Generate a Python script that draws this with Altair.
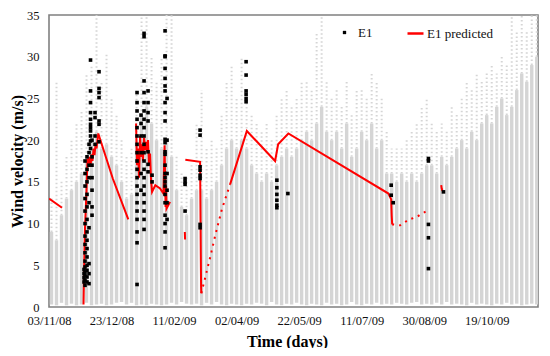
import altair as alt
import pandas as pd

# x positions are days counted from 03/11/08
# ---- grey background (all measured wind data, read as 4-day streaks) ----
bg_day = [2, 6, 10, 14, 18, 22, 26, 30, 34, 38,
          42, 46, 50, 54, 58, 62, 66, 70, 74, 78,
          82, 86, 90, 94, 98, 102, 106, 110, 114, 118,
          122, 126, 130, 134, 138, 142, 146, 150, 154, 158,
          162, 166, 170, 174, 178, 182, 186, 190, 194, 198,
          202, 206, 210, 214, 218, 222, 226, 230, 234, 238,
          242, 246, 250, 254, 258, 262, 266, 270, 274, 278,
          282, 286, 290, 294, 298, 302, 306, 310, 314, 318,
          322, 326, 330, 334, 338, 342, 346, 350, 354, 358,
          362, 366, 370, 374, 378, 382, 386, 390]
bg_low = [0.3, 0.2, 0.5, 0.2, 0.4, 0.2, 0.3, 0.5, 0.2, 0.3,
          0.4, 0.2, 0.3, 0.5, 0.6, 0.3, 0.5, 0.2, 0.3, 0.2,
          0.4, 0.3, 0.2, 0.3, 0.5, 0.3, 0.6, 0.4, 0.3, 0.4,
          0.2, 0.5, 0.3, 0.6, 0.3, 0.2, 0.4, 0.3, 0.2, 0.4,
          0.3, 0.5, 0.4, 0.2, 0.6, 0.3, 0.2, 0.4, 0.3, 0.5,
          0.3, 0.2, 0.4, 0.3, 0.2, 0.5, 0.3, 0.4, 0.2, 0.3,
          0.6, 0.3, 0.2, 0.4, 0.3, 0.5, 0.3, 0.4, 0.3, 0.5,
          0.4, 0.3, 0.5, 0.6, 0.3, 0.4, 0.3, 0.5, 0.3, 0.6,
          0.3, 0.4, 0.3, 0.2, 0.5, 0.3, 0.4, 0.3, 0.2, 0.4,
          0.3, 0.5, 0.3, 0.4, 0.2, 0.3, 0.4, 0.3]
bg_core = [9, 8, 11, 13, 14, 15, 16, 18, 20, 21,
           19, 19.5, 18, 17, 15, 13, 13.5, 20, 23, 24,
           22, 20, 19, 20, 18, 14, 12, 11, 13, 14,
           14, 13, 14, 15, 17, 19, 20, 19, 20, 19,
           17, 16, 15, 16, 15, 17, 18, 19, 18, 19,
           20, 21, 20, 22, 24, 21, 20, 21, 19, 22,
           18, 19, 21, 20, 22, 19, 20, 16, 16, 15,
           16, 15, 16, 15, 16, 17, 17, 16, 18, 17,
           18, 19, 20, 19, 21, 20, 22, 23, 22, 24,
           25, 23, 24, 26, 28, 27, 29, 30]
bg_tip = [13, 27, 15, 18, 20, 22, 23.5, 28, 29, 35,
          27, 30.5, 25, 23, 20, 18, 19, 26, 35, 35,
          30, 27, 30, 35, 35, 18, 16, 15.5, 17, 22,
          26, 19, 20, 19, 23, 27, 29, 25, 30, 26,
          23, 22, 21, 22, 20, 23, 25, 26, 24, 25,
          27, 27, 26, 33, 35, 27, 25, 26, 24, 27,
          23, 26, 26, 25, 28, 27, 25, 21, 19, 19,
          19, 20, 21, 22, 24, 25, 22, 21, 22, 21,
          24, 23, 25, 27, 26, 28, 27, 28, 29, 28,
          30, 29, 35, 33, 35, 33, 35, 35]

# ---- E1 measured points (columns of points at each day) ----
e1_days = [28.0, 28.8, 30.4, 32.0, 33.2, 34.4, 36.8, 40.0,
           70.4, 73.6, 76.0, 79.2, 82.4,
           92.8, 94.4, 108.8, 120.8, 157.6, 182.2, 191.0,
           273.6, 275.2, 303.4, 315.4]
e1_values = [
    [3.0, 3.5, 4.0, 4.5],
    [2.6, 3.2, 3.8, 4.2, 4.8, 5.5, 6.5, 7.5, 8.5, 10, 11.5, 13, 14.5, 16, 17.5],
    [3.0, 3.6, 4.4, 5, 6, 7, 8, 9, 10.5, 12, 13.5, 15, 16.5, 18],
    [2.8, 4, 5.2, 9.5, 12.5, 15.5, 17, 18.5, 19.5],
    [19.0, 19.9, 20.5, 21.1, 21.5, 21.9, 22.5, 23.3, 24.5, 25.9, 29.6],
    [11, 12, 14, 15.5, 17, 18, 20],
    [19.5, 20.5, 22.7, 23.3],
    [19.8, 21.9, 22.3, 25.1, 25.7, 26.2, 28.2],
    [2.7, 7.7, 9, 10.5, 11.5, 12.5, 13.5, 14.5, 15.5, 16.5, 17.5, 18.5, 19.5,
     20.5, 21.5, 22.5, 23.5, 24.5, 25.7],
    [14, 16, 18.5, 20.5, 22, 23],
    [9.3, 10.5, 11.5, 12.5, 13.5, 14.5, 15.5, 16.5, 17.5, 18.5, 19.5, 20.5,
     21.5, 22.5, 23.5, 24.5, 25.7, 27.1, 32.4, 32.8],
    [16.2, 17.1, 18.6, 22.3, 23.3, 24.5, 25.9],
    [15.8, 15.0],
    [7.1, 9, 10, 11, 12.5, 13.5, 14.5, 15, 15.5, 16, 17, 18.3, 18.6, 19.7, 20.1,
     22.3, 23.3, 24.5, 25.9, 26.5, 27.4, 28.6, 30.0, 30.1, 33.1],
    [10.5, 12.5, 14, 16, 20, 25],
    [11.5, 14.7, 15.0, 15.4],
    [9.5, 9.9, 15.4, 15.8, 16.4, 16.8, 20.6, 21.2],
    [24.6, 25.0, 25.5, 25.9, 27.8, 29.4],
    [11.9, 12.2, 12.8, 13.5, 14.3, 15.2],
    [13.6],
    [14.6, 13.4],
    [12.5],
    [4.6, 8.3, 9.9, 17.5, 17.8],
    [13.8],
]

# ---- E1 predicted (red line, drawn in separate pieces) ----
pred_piece = [1, 1,
              2, 2, 2, 2, 2, 2, 2, 2, 2, 2, 2, 2, 2, 2, 2, 2, 2, 2, 2, 2, 2,
              3, 3, 3, 3, 3, 3, 3, 3, 3, 3, 3, 3, 3, 3, 3, 3, 3, 3, 3, 3, 3, 3, 3, 3, 3, 3,
              4, 4,
              5, 5, 5, 5, 5, 5, 5,
              7, 7, 7, 7, 7, 7, 7, 7, 7,
              9, 9, 9]
pred_day = [0, 10.4,
            27.6, 28.0, 28.4, 28.8, 29.2, 29.6, 30.0, 30.4, 30.8, 31.6, 32.4, 33.2,
            34.0, 34.8, 35.6, 36.4, 37.2, 38.0, 39.4, 51.0, 63.4,
            69.6, 70.4, 71.2, 72.0, 72.8, 73.6, 74.4, 75.2, 76.0, 76.8, 77.6, 78.4,
            79.2, 80.0, 80.8, 81.6, 82.4, 85.0, 88.8, 91.5, 92.4, 92.8, 93.2, 93.6,
            94.0, 96.8,
            108.6, 108.8,
            109.0, 120.8, 121.0, 121.2, 121.4, 121.6, 121.8,
            144.8, 158.2, 180.8, 183.2, 191.4, 271.4, 273.6, 274.0, 274.4,
            313.6, 314.0, 314.6]
pred_val = [13.0, 11.9,
            0.3, 4, 7, 9.5, 11, 12.5, 14, 16, 17.8, 17.2, 18, 16.8,
            18.3, 17.5, 19, 18.2, 19.5, 19, 20.8, 15.4, 10.5,
            22, 17, 19, 15.5, 20.5, 18, 19.5, 17.5, 20.3, 18.8, 19.8, 18.6,
            20, 17, 18.4, 15.2, 13.8, 14.6, 14.2, 13.6, 19.4, 16, 12, 14.5,
            11.8, 12.6,
            9.0, 8.1,
            17.65, 17.4, 14, 10, 6, 2.5, 1.65,
            14.7, 21.1, 17.5, 19.5, 20.8, 13.6, 12.9, 11.0, 9.9,
            14.6, 14.2, 13.9]
# sparse (dotted-looking) stretches of the predicted series
sparse_piece = [6, 6, 6, 6, 6, 8, 8, 8, 8, 8, 8]
sparse_day = [121.8, 128.8, 132.8, 138.2, 144.8,
              274.4, 280.8, 288.0, 294.2, 298.2, 303.4]
sparse_val = [1.65, 5.9, 8.5, 11.7, 14.7,
              9.9, 9.8, 10.5, 10.8, 11.2, 11.6]

tick_days = [0, 50, 100, 150, 200, 250, 300, 350]
y_ticks = [0, 5, 10, 15, 20, 25, 30, 35]

# ---- frames ----
bg = pd.DataFrame({"day": bg_day, "low": bg_low, "core": bg_core, "tip": bg_tip})
e1_rows = [(d, v) for d, vals in zip(e1_days, e1_values) for v in vals]
e1 = pd.DataFrame(e1_rows, columns=["day", "value"])
e1["series"] = "E1"
pred = pd.DataFrame({"piece": pred_piece, "day": pred_day, "value": pred_val})
pred["series"] = "E1 predicted"
sparse = pd.DataFrame({"piece": sparse_piece, "day": sparse_day, "value": sparse_val})
sparse["series"] = "E1 predicted"

FONT = "Liberation Serif"
GREY = "#d5d5d5"
LABEL_SIZE = 12.5

x_enc = alt.X(
    "day:Q",
    scale=alt.Scale(domain=[0, 391], nice=False, zero=False),
    axis=alt.Axis(
        values=tick_days,
        labelExpr="timeFormat(datetime(2008, 10, 3 + datum.value), '%d/%m/%y')",
        labelFont=FONT, labelFontSize=LABEL_SIZE, labelColor="#111111", labelOverlap=False,
        labelFlush=False,
        title="Time (days)", titleFont=FONT, titleFontSize=16, titleFontWeight="bold",
        titleX=238, titleY=34, titleBaseline="middle", titleAlign="center",
        labelPadding=7, grid=False, ticks=False, domain=False,
    ),
)
y_scale = alt.Scale(domain=[0, 35], nice=False, zero=True)
y_axis = alt.Axis(
    values=y_ticks, labelFont=FONT, labelFontSize=LABEL_SIZE, labelColor="#111111",
    labelOverlap=False, labelFlush=False,
    title="Wind velocity (m/s)", titleFont=FONT, titleFontSize=16, titleFontWeight="bold",
    titleX=-32, titleY=146, titleAngle=270, titleBaseline="middle", titleAlign="center",
    labelPadding=10, grid=False, ticks=False, domain=False,
)

core = alt.Chart(bg).mark_rule(strokeWidth=3.4, color=GREY, clip=True).encode(
    x=x_enc,
    y=alt.Y("low:Q", scale=y_scale, axis=y_axis),
    y2="core:Q",
)
tips = alt.Chart(bg).mark_rule(strokeWidth=2, color=GREY, strokeDash=[1.5, 2.5], clip=True).encode(
    x="day:Q", y="core:Q", y2="tip:Q",
)

color_scale = alt.Scale(domain=["E1 predicted"], range=["#ff0000"])
line = alt.Chart(pred).mark_line(strokeWidth=2, clip=True).encode(
    x="day:Q", y="value:Q", detail="piece:N", order="day:Q",
    color=alt.Color("series:N", scale=color_scale,
                    legend=alt.Legend(orient="none", legendX=357, legendY=9, title=None,
                                      symbolType="stroke", symbolSize=256,
                                      symbolStrokeWidth=2.5, labelOffset=2)),
)
line_sparse = alt.Chart(sparse).mark_line(strokeWidth=2, strokeDash=[2, 5], clip=True).encode(
    x="day:Q", y="value:Q", detail="piece:N", order="day:Q",
    color=alt.Color("series:N", scale=color_scale, legend=None),
)
points = alt.Chart(e1).mark_point(filled=True, color="black", size=13, opacity=1, clip=True).encode(
    x="day:Q", y="value:Q",
    shape=alt.Shape("series:N", scale=alt.Scale(domain=["E1"], range=["square"]),
                    legend=alt.Legend(orient="none", legendX=289, legendY=11, title=None,
                                      symbolSize=11, symbolFillColor="black",
                                      symbolStrokeColor="black", labelOffset=7)),
)

chart = alt.layer(core, tips, line, line_sparse, points).resolve_scale(
    color="independent", shape="independent"
).properties(
    width=489, height=292,
    padding={"left": 41, "top": 7, "right": 4, "bottom": 41},
    autosize=alt.AutoSizeParams(type="none"),
).configure_view(
    stroke="#808080", strokeWidth=1.6,
).configure_axis(
    labelFont=FONT, labelFontSize=LABEL_SIZE, labelColor="#111111",
    titleFont=FONT, titleFontSize=16, titleFontWeight="bold", titleColor="#000000",
).configure_legend(
    labelFont=FONT, labelFontSize=13, labelColor="#111111", padding=0,
)

chart.save("out.html", embed_options={"renderer": "svg", "actions": False})
